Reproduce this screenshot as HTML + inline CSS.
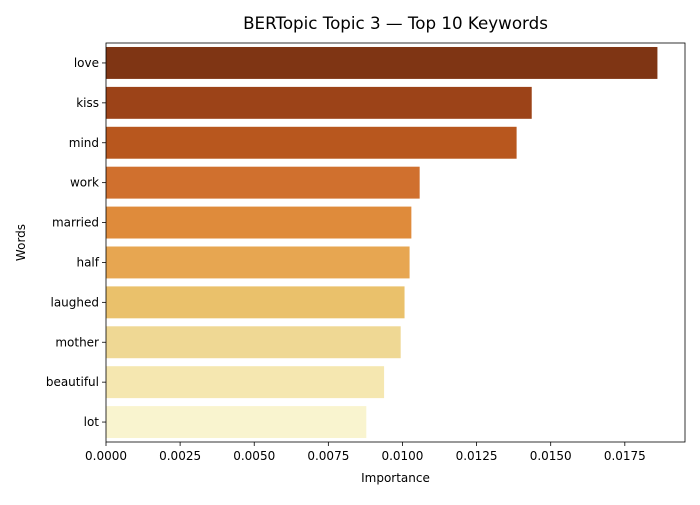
<!DOCTYPE html>
<html><head><meta charset="utf-8"><style>
body{margin:0;background:#fff;font-family:"Liberation Sans","DejaVu Sans",sans-serif;}
svg text{font-family:"DejaVu Sans","Liberation Sans",sans-serif;}
</style></head><body>
<svg id="chart" width="700" height="500">
<text x="395.5" y="29" font-size="16.7" text-anchor="middle">BERTopic Topic 3 — Top 10 Keywords</text>
<g id="bars"></g>
<g id="axes"></g>
<text x="395.5" y="482" font-size="12" text-anchor="middle">Importance</text>
<text x="25" y="242.5" font-size="12" text-anchor="middle" transform="rotate(-90 25 242.5)">Words</text>
</svg>
<script>
const words=["love","kiss","mind","work","married","half","laughed","mother","beautiful","lot"];
const values=[0.01860,0.01436,0.01385,0.01058,0.01030,0.01024,0.01007,0.00994,0.00938,0.00878];
const colors=["#7f3514","#9c4318","#b8571e","#d0702e","#df8b3b","#e7a651","#eac16b","#efd894","#f5e7b0","#f9f4cf"];
const ticks=[0,0.0025,0.005,0.0075,0.01,0.0125,0.015,0.0175];
const tickLabels=["0.0000","0.0025","0.0050","0.0075","0.0100","0.0125","0.0150","0.0175"];
const L=106,R=685,T=43,B=442;
const xMax=0.01953;
const x=v=>L+v/xMax*(R-L);
const band=(B-T)/words.length;
const y=i=>T+i*band;
const NS="http://www.w3.org/2000/svg";
const bars=document.getElementById('bars'),axes=document.getElementById('axes');
function mk(tag,attrs,parent){const e=document.createElementNS(NS,tag);for(const k in attrs)e.setAttribute(k,attrs[k]);parent.appendChild(e);return e;}
words.forEach((w,i)=>{
  const r=mk('rect',{x:L,y:y(i)+band*0.1,width:x(values[i])-L,height:band*0.8,fill:colors[i]},bars);
  
  
  const cy=y(i)+band/2;
  const tk=mk('line',{x1:L-4,x2:L,y1:cy,y2:cy,stroke:'#000','stroke-width':0.8},axes);
  
  
  const t=mk('text',{x:L-7,y:cy+4,'font-size':12,'text-anchor':'end'},axes);
  t.textContent=w;
  
  
});
ticks.forEach((v,i)=>{
  const px=x(v);
  const tk=mk('line',{x1:px,x2:px,y1:B,y2:B+4,stroke:'#000','stroke-width':0.8},axes);
  
  
  const t=mk('text',{x:px,y:B+18,'font-size':12,'text-anchor':'middle'},axes);
  t.textContent=tickLabels[i];
  
  
});
const f=mk('rect',{x:L,y:T,width:R-L,height:B-T,fill:'none',stroke:'#000','stroke-width':0.8},axes);


</script>
</body></html>
